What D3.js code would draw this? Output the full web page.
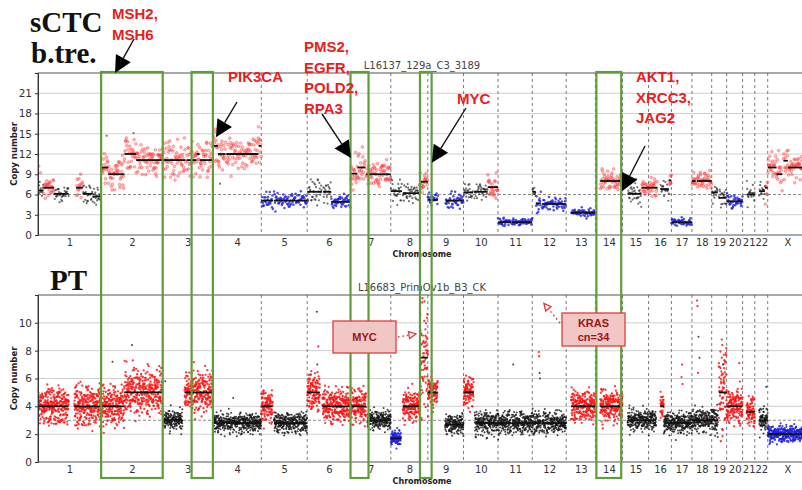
<!DOCTYPE html>
<html>
<head>
<meta charset="utf-8">
<script src="https://cdn.jsdelivr.net/npm/d3@7/dist/d3.min.js"></script>
<style>
  html, body { margin: 0; padding: 0; background: #fff; }
  svg { display: block; }
</style>
</head>
<body>
<svg id="chart" width="802" height="490"></svg>
<script>
// ---- chromosome layout (hg19 lengths, Mb) ----
const chromNames   = ["1","2","3","4","5","6","7","8","9","10","11","12","13","14","15","16","17","18","19","20","21","22","X"];
const chromLengths = [249,243,198,191,181,171,159,146,141,136,135,134,115,107,103,90,81,78,59,63,48,51,155];

// ---- copy-number segments: [chrom, startMb, endMb, copyNumber, state, spread] ----
// state: g = gain (red), n = neutral (black), l = loss (blue)
const ctcSegments = [
  ["1",0,22,6.6,"n",0.9],["1",22,64,7,"g",0.9],["1",64,121,6.1,"n",0.7],["1",150,176,7,"g",0.9],
  ["1",176,215,6.1,"n",0.7],["1",215,249,5.7,"n",0.7],
  ["2",0,28,10,"g",1.3],["2",28,92,9,"g",1.3],["2",92,138,12,"g",1.3],["2",138,243,11.1,"g",1.3],
  ["3",0,90,11.1,"g",1.3],["3",94,134,11.1,"g",1.3],["3",134,146,12,"g",1.2],["3",146,198,11.1,"g",1.3],
  ["4",0,20,13.2,"g",1.2],["4",20,50,12,"g",1.3],["4",53,180,12,"g",1.3],["4",180,191,13.2,"g",1.2],
  ["5",0,47,5.1,"l",0.6],["5",50,181,5.1,"l",0.6],
  ["6",0,58,6.4,"n",0.9],["6",62,95,6.4,"n",0.9],["6",95,171,4.9,"l",0.55],
  ["7",0,27,9.1,"g",1.1],["7",27,59,10,"g",1.1],["7",62,159,9,"g",1.1],
  ["8",0,44,6.5,"n",0.8],["8",47,114,6.2,"n",0.7],["8",114,146,7.9,"g",0.9],
  ["9",0,40,5.2,"l",0.55],["9",70,141,5.1,"l",0.55],
  ["10",0,38,6.3,"n",0.8],["10",42,95,6.4,"n",0.8],["10",95,136,7.1,"g",0.9],
  ["11",0,51,1.9,"l",0.3],["11",55,135,1.9,"l",0.3],
  ["12",0,14,6.4,"n",0.7],["12",14,34,4.7,"l",0.55],["12",38,134,4.6,"l",0.55],
  ["13",19,115,3.3,"l",0.3],
  ["14",19,107,8,"g",1.0],
  ["15",20,75,6.1,"n",0.8],["15",75,103,7,"g",0.7],
  ["16",0,35,7,"g",0.8],["16",47,80,6.8,"n",0.8],["16",80,90,8.1,"g",0.7],
  ["17",0,24,1.9,"l",0.3],["17",26,81,1.9,"l",0.3],
  ["18",0,15,8,"g",0.9],["18",19,78,8,"g",0.8],
  ["19",0,24,6.3,"n",0.7],["19",28,59,5.5,"n",0.8],
  ["20",0,63,5,"l",0.55],
  ["21",15,48,6,"n",0.8],
  ["22",17,40,6.5,"n",0.8],["22",40,51,7,"g",0.9],
  ["X",0,35,10,"g",1.2],["X",35,58,9,"g",1.2],["X",62,80,11,"g",1.2],["X",80,155,10,"g",1.2]
];

const ptSegments = [
  ["1",0,121,4,"g",0.7],["1",143,249,4,"g",0.7],
  ["2",0,91,4,"g",0.7],["2",91,243,5,"g",0.8],
  ["3",0,78,3,"n",0.35],["3",86,198,5,"g",0.8],
  ["4",0,49,2.8,"n",0.35],["4",52,191,2.8,"n",0.35],
  ["5",0,45,4,"g",0.6],["5",50,181,2.8,"n",0.35],
  ["6",0,50,5,"g",0.7],["6",60,171,4,"g",0.6],
  ["7",0,62,4,"g",0.6],["7",66,159,3,"n",0.35],
  ["8",0,40,1.7,"l",0.3],["8",47,114,4,"g",0.6],["8",116,146,7.5,"g",2.2],
  ["9",0,39,5,"g",0.6],["9",68,141,2.7,"n",0.35],
  ["10",0,40,5,"g",0.6],["10",44,136,2.8,"n",0.4],
  ["11",0,52,2.8,"n",0.4],["11",55,135,2.8,"n",0.4],
  ["12",0,34,2.8,"n",0.4],["12",38,134,2.8,"n",0.4],
  ["13",19,115,4,"g",0.6],
  ["14",19,107,4,"g",0.6],
  ["15",20,103,3,"n",0.4],
  ["16",0,30,3,"n",0.4],["16",46,60,4,"g",0.5],["16",60,90,2.8,"n",0.4],
  ["17",0,81,2.8,"n",0.4],
  ["18",0,78,3,"n",0.4],
  ["19",0,25,3,"n",0.5],["19",28,59,5,"g",1.5],
  ["20",0,63,4,"g",0.6],
  ["21",15,48,3.6,"g",0.5],
  ["22",17,51,3,"n",0.5],
  ["X",0,155,2,"l",0.3]
];

// ---- isolated outlier bins: [chrom, positionMb, copyNumber, state] ----
const ctcOutliers = [["2",22,14.7,"n"],["2",128,15.1,"n"],["4",28,7.6,"n"],["1",3,10.2,"g"],["1",10,9.2,"g"]];
const ptOutliers = [
  ["2",45,7.2,"n"],["2",122,8.4,"n"],["2",125,7.3,"g"],["6",38,10.8,"n"],["6",40,7.0,"n"],["6",44,8.3,"g"],
  ["12",26,7.9,"g"],["12",27,7.6,"g"],["12",29,6.4,"n"],["12",30,6.0,"n"],["11",60,7.0,"n"],["10",10,6.2,"g"],
  ["17",40,6.1,"g"],["17",42,7.0,"g"],["17",44,5.6,"g"],["18",20,11.6,"g"],["18",22,11.2,"g"],["18",26,9.0,"n"],
  ["18",30,7.5,"n"],["18",24,6.4,"g"],["19",40,8.8,"g"],["19",42,8.4,"g"],["19",44,7.0,"n"],["19",48,7.7,"g"],
  ["20",50,7.1,"g"],["22",45,5.4,"n"],["7",20,4.6,"n"],["3",10,5.8,"n"],["4",80,4.6,"n"]
];

// ---- standardised residual table for bin scatter ----
const residuals = [0.3,-1.1,0.8,-0.2,1.6,-0.7,0.1,-1.5,0.9,0.4,-0.5,1.2,-0.9,0.0,2.0,-0.3,0.6,-1.8,0.2,1.0,
  -0.6,-0.1,1.4,-1.2,0.5,-0.4,0.7,-2.1,1.1,0.2,-0.8,0.3,-1.3,1.8,-0.2,0.6,-0.5,0.9,-1.0,0.1,
  1.3,-0.7,0.4,-1.6,0.0,0.8,-0.3,2.2,-1.1,0.5,-0.1,1.0,-0.9,0.3,-1.4,0.7,0.2,-0.6,1.5,-0.4,
  0.1,-1.9,0.9,0.6,-0.2,1.2,-1.0,0.4,-0.8,0.0,1.7,-0.5,0.3,-1.2,0.8,-0.3,1.1,-0.7,0.5,-2.4,
  0.2,0.9,-0.1,1.4,-1.3,0.6,-0.4,0.0,1.9,-0.9,0.3,-0.6,1.0,-1.5,0.7,-0.2,0.4,-1.0,1.3,-0.8,0.1];

const ctcTicks = [0,3,6,9,12,15,18,21];
const ptTicks  = [0,2,4,6,8,10];

// highlighted regions: [chrom, startMb, chromEnd, endMb]
const highlights = [["2",0,"2",243],["3",114,"3",198],["7",0,"7",71],["8",115,"9",15],["14",4,"14",102]];

// ---- drawing ----
const svg = d3.select("#chart");
const W = 802, H = 490;
svg.append("rect").attr("width", W).attr("height", H).attr("fill", "#fff");

const offsets = {};
let acc = 0;
chromNames.forEach((c, i) => { offsets[c] = acc; acc += chromLengths[i]; });
const genomeLen = acc;
const gpos = (c, mb) => offsets[c] + mb;

const x = d3.scaleLinear().domain([0, genomeLen]).range([38, 807]);

function binPoints(segments, step) {
  const pts = [];
  let k = 0;
  const n1 = residuals.length, n2 = 97;
  segments.forEach(([c, s, e, cn, st, sd]) => {
    for (let p = Math.ceil(gpos(c, s) / step) * step; p < gpos(c, e); p += step) {
      const r = 0.8 * residuals[(k * 37) % n1] + 0.6 * residuals[(k * 13 + 5) % n2];
      pts.push({ g: p, cn: Math.max(0.05, cn + sd * r), st });
      k++;
    }
  });
  return pts;
}

function drawPanel(cfg) {
  const y = d3.scaleLinear().domain([0, cfg.ymax]).range([cfg.bottom, cfg.top]);
  const g = svg.append("g");
  const clipId = "clip" + cfg.id;
  svg.append("clipPath").attr("id", clipId).append("rect")
    .attr("x", 38).attr("y", cfg.top).attr("width", 807 - 38).attr("height", cfg.bottom - cfg.top);

  // horizontal grid
  g.selectAll(".hgrid").data(cfg.ticks.filter(t => t > 0 && t !== cfg.base)).join("line")
    .attr("x1", 38).attr("x2", 807).attr("y1", d => y(d)).attr("y2", d => y(d))
    .attr("stroke", "#cfcfcf").attr("stroke-width", 1);
  // ploidy baseline
  g.append("line").attr("x1", 38).attr("x2", 807).attr("y1", y(cfg.base)).attr("y2", y(cfg.base))
    .attr("stroke", "#8a8a8a").attr("stroke-width", 1.1).attr("stroke-dasharray", "3,2");
  // chromosome boundaries
  g.selectAll(".vgrid").data(chromNames.slice(1)).join("line")
    .attr("x1", d => x(offsets[d])).attr("x2", d => x(offsets[d]))
    .attr("y1", cfg.top).attr("y2", cfg.bottom)
    .attr("stroke", "#7a7a7a").attr("stroke-width", 1).attr("stroke-dasharray", "3,3");

  // bins
  const pts = binPoints(cfg.segments, cfg.step)
    .concat(cfg.outliers.map(([c, p, cn, st]) => ({ g: gpos(c, p), cn, st })));
  const dots = g.append("g").attr("clip-path", `url(#${clipId})`);
  dots.selectAll("circle").data(pts).join("circle")
    .attr("cx", d => x(d.g)).attr("cy", d => y(d.cn)).attr("r", d => cfg.radius[d.st])
    .attr("fill", d => cfg.colors[d.st]).attr("fill-opacity", d => cfg.alpha[d.st])
    .attr("stroke", d => cfg.outline[d.st] ? cfg.colors[d.st] : "none")
    .attr("stroke-width", 0.6).attr("stroke-opacity", 0.6);

  // segment means
  dots.selectAll("line").data(cfg.segments).join("line")
    .attr("x1", d => x(gpos(d[0], d[1]))).attr("x2", d => x(gpos(d[0], d[2])))
    .attr("y1", d => y(d[3])).attr("y2", d => y(d[3]))
    .attr("stroke", "#111").attr("stroke-width", 1.8);

  // frame
  g.append("rect").attr("x", 38).attr("y", cfg.top).attr("width", 807 - 38).attr("height", cfg.bottom - cfg.top)
    .attr("fill", "none").attr("stroke", "#555").attr("stroke-width", 1);

  // y axis
  const yAxis = d3.axisLeft(y).tickValues(cfg.ticks).tickSize(3).tickPadding(3);
  const ya = g.append("g").attr("transform", "translate(38,0)").call(yAxis);
  ya.select(".domain").attr("stroke", "#333");
  ya.selectAll("text").attr("font-family", "DejaVu Sans").attr("font-size", 10.5).attr("fill", "#333");
  ya.selectAll("line").attr("stroke", "#333");

  // x axis: chromosome labels at centres
  const centres = chromNames.map((c, i) => offsets[c] + chromLengths[i] / 2);
  const xAxis = d3.axisBottom(x).tickValues(centres).tickFormat((d, i) => chromNames[i]).tickSize(0).tickPadding(4);
  const xa = g.append("g").attr("transform", `translate(0,${cfg.bottom})`).call(xAxis);
  xa.select(".domain").remove();
  xa.selectAll("text").attr("font-family", "DejaVu Sans").attr("font-size", 10).attr("fill", "#333");

  g.append("text").attr("x", 422).attr("y", cfg.bottom + 22).attr("text-anchor", "middle")
    .attr("font-family", "DejaVu Sans").attr("font-size", 8).attr("font-weight", "bold").attr("fill", "#222")
    .text("Chromosome");
  g.append("text").attr("transform", `translate(17,${(cfg.top + cfg.bottom) / 2}) rotate(-90)`)
    .attr("text-anchor", "middle").attr("font-family", "DejaVu Sans").attr("font-size", 8.5)
    .attr("font-weight", "bold").attr("fill", "#222").text("Copy number");
  g.append("text").attr("x", 422).attr("y", cfg.top - 4).attr("text-anchor", "middle")
    .attr("font-family", "DejaVu Sans").attr("font-size", 10).attr("fill", "#444").text(cfg.title);
  return y;
}

const yTop = drawPanel({
  id: "ctc", top: 73, bottom: 235, ymax: 24, base: 6, ticks: ctcTicks, step: 1.7,
  segments: ctcSegments, outliers: ctcOutliers, title: "L16137_129a_C3_3189",
  colors: { g: "#ff3030", n: "#222", l: "#2424e6" },
  outline: { g: true, n: false, l: false },
  radius: { g: 1.4, n: 1.1, l: 1.25 }, alpha: { g: 0.3, n: 0.65, l: 0.8 }
});
const yBot = drawPanel({
  id: "pt", top: 295, bottom: 462, ymax: 12, base: 3, ticks: ptTicks, step: 0.45,
  segments: ptSegments, outliers: ptOutliers, title: "L16683_PrimOv1b_B3_CK",
  colors: { g: "#ff1414", n: "#151515", l: "#1e1ee8" },
  outline: { g: false, n: false, l: false },
  radius: { g: 1.15, n: 1.0, l: 1.1 }, alpha: { g: 0.85, n: 0.8, l: 0.85 }
});

// ---- highlighted regions spanning both panels ----
svg.append("g").selectAll("rect").data(highlights).join("rect")
  .attr("x", d => x(gpos(d[0], d[1]))).attr("y", 72)
  .attr("width", d => x(gpos(d[2], d[3])) - x(gpos(d[0], d[1]))).attr("height", 478 - 72)
  .attr("fill", "none").attr("stroke", "#5e9e3a").attr("stroke-width", 2.2);

// ---- annotations ----
const ann = svg.append("g");
function solidArrow(x1, y1, x2, y2) {
  const a = Math.atan2(y2 - y1, x2 - x1), L = 17, Wd = 8.5;
  const bx = x2 - L * Math.cos(a), by = y2 - L * Math.sin(a);
  ann.append("line").attr("x1", x1).attr("y1", y1).attr("x2", bx).attr("y2", by)
    .attr("stroke", "#111").attr("stroke-width", 1.4);
  ann.append("polygon").attr("fill", "#000").attr("points", [
    [x2, y2],
    [bx + Wd * Math.sin(a), by - Wd * Math.cos(a)],
    [bx - Wd * Math.sin(a), by + Wd * Math.cos(a)]
  ].map(p => p.join(",")).join(" "));
}
function dottedArrow(x1, y1, x2, y2) {
  const a = Math.atan2(y2 - y1, x2 - x1), L = 7, Wd = 3.5;
  const bx = x2 - L * Math.cos(a), by = y2 - L * Math.sin(a);
  ann.append("line").attr("x1", x1).attr("y1", y1).attr("x2", bx).attr("y2", by)
    .attr("stroke", "#e83a3a").attr("stroke-width", 1.6).attr("stroke-dasharray", "1.5,3");
  ann.append("polygon").attr("fill", "#fff").attr("stroke", "#e83a3a").attr("stroke-width", 1.3).attr("points", [
    [x2, y2],
    [bx + Wd * Math.sin(a), by - Wd * Math.cos(a)],
    [bx - Wd * Math.sin(a), by + Wd * Math.cos(a)]
  ].map(p => p.join(",")).join(" "));
}
function redLines(x0, y0, lines) {
  lines.forEach((t, i) => ann.append("text").attr("x", x0).attr("y", y0 + i * 20.5)
    .attr("font-family", "Liberation Sans, Arial, sans-serif").attr("font-weight", "bold")
    .attr("font-size", 15).attr("fill", "#ec1c1c").text(t));
}

// panel headings
ann.append("text").attr("x", 30).attr("y", 32).attr("font-family", "Liberation Serif, Times New Roman, serif")
  .attr("font-weight", "bold").attr("font-size", 29).attr("fill", "#111").text("sCTC");
ann.append("text").attr("x", 31).attr("y", 63).attr("font-family", "Liberation Serif, Times New Roman, serif")
  .attr("font-weight", "bold").attr("font-size", 29).attr("fill", "#111").text("b.tre.");
ann.append("text").attr("x", 50).attr("y", 290).attr("font-family", "Liberation Serif, Times New Roman, serif")
  .attr("font-weight", "bold").attr("font-size", 29).attr("fill", "#111").text("PT");

// gene call-outs on the sCTC panel
redLines(112, 19, ["MSH2,", "MSH6"]);
solidArrow(134, 39, x(gpos("2", 55)), yTop(24));
redLines(228, 82, ["PIK3CA"]);
solidArrow(237, 102, x(gpos("4", 12)), yTop(14.5));
redLines(304, 52, ["PMS2,", "EGFR,", "POLD2,", "RPA3"]);
solidArrow(322, 114, x(gpos("7", 2)), yTop(11.4));
redLines(457, 104, ["MYC"]);
solidArrow(466, 108, x(gpos("9", 16)), yTop(10.7));
redLines(636, 82, ["AKT1,", "XRCC3,", "JAG2"]);
solidArrow(645, 146, x(gpos("14", 105)), yTop(6.5));

// boxed call-outs on the PT panel
function calloutBox(x0, y0, w, h, lines) {
  ann.append("rect").attr("x", x0).attr("y", y0).attr("width", w).attr("height", h)
    .attr("fill", "#f3c6c6").attr("stroke", "#e03c3c").attr("stroke-width", 1.3);
  lines.forEach((t, i) => ann.append("text").attr("x", x0 + w / 2)
    .attr("y", y0 + h / 2 + 4 + (i - (lines.length - 1) / 2) * 14)
    .attr("text-anchor", "middle").attr("font-family", "Liberation Sans, Arial, sans-serif")
    .attr("font-weight", "bold").attr("font-size", 11).attr("fill", "#9b1414").text(t));
}
calloutBox(333, 321, 63, 32, ["MYC"]);
dottedArrow(398, 337, x(gpos("8", 99)), yBot(9.2));
calloutBox(562, 313, 63, 33, ["KRAS", "cn=34"]);
dottedArrow(560, 323, x(gpos("12", 46)), yBot(11.4));
</script>
</body>
</html>
